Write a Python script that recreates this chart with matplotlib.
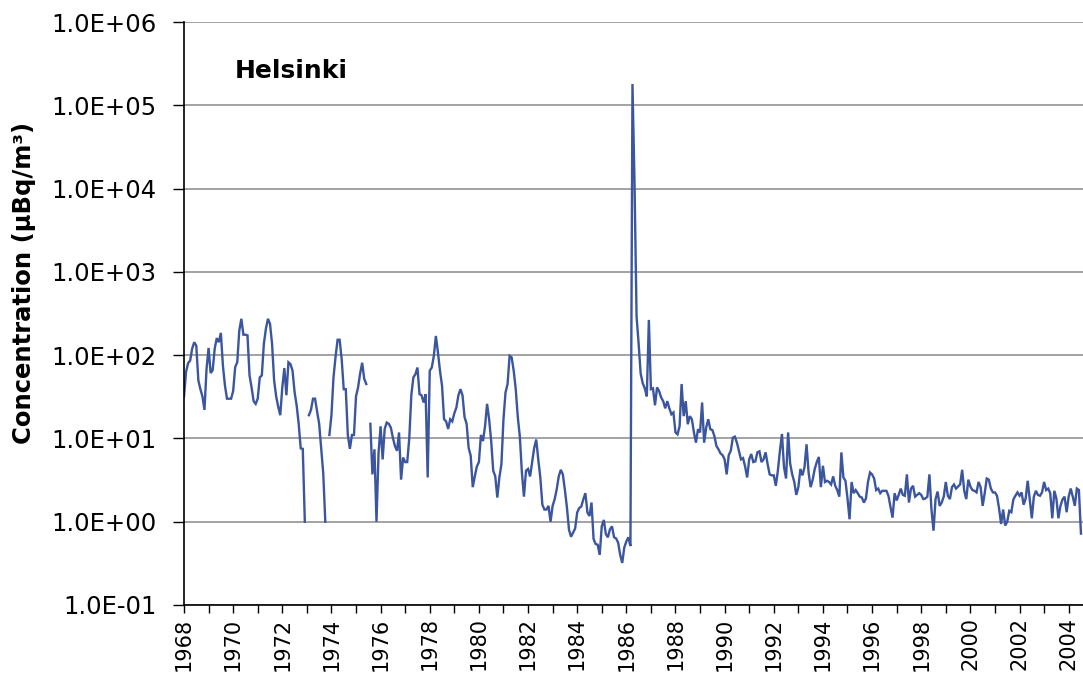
import numpy as np
import matplotlib
matplotlib.use("Agg")
import matplotlib.pyplot as plt
from matplotlib.ticker import FixedLocator, MultipleLocator, FuncFormatter, NullLocator

nan = np.nan
# Monthly Cs-137 concentrations (µBq/m3), Helsinki
c1968 = [32, 63, 80, 86, 120, 143, 130, 50, 39, 32, 22, 68]
c1969 = [122, 61, 66, 120, 160, 143, 185, 75, 43, 30, 30, 30]
c1970 = [37, 72, 82, 198, 273, 176, 176, 173, 57, 41, 28, 26]
c1971 = [30, 54, 57, 137, 208, 273, 238, 137, 50, 32, 24, 19]
c1972 = [41, 70, 33, 82, 78, 65, 36, 25, 15, 7.6, 7.5, 1.0]
c1973 = [nan, 19, 22, 30, 30, 21, 15, 7.5, 3.8, 1.0, nan, 11]
c1974 = [19, 54, 95, 153, 153, 89, 39, 39, 11, 7.5, 11, 11]
c1975 = [32, 41, 60, 81, 52, 45, nan, 15, 3.7, 7.4, 1.0, 6.7]
c1976 = [14, 5.6, 13, 15.5, 15, 13.5, 10.2, 8.1, 7.1, 11.8, 3.2, 5.9]
c1977 = [5.2, 5.2, 10, 33, 54, 59, 71, 34, 33, 27, 34, 3.4]
c1978 = [65, 71, 98, 170, 108, 65, 43, 17, 16, 13, 17, 16]
c1979 = [20, 23.5, 33, 39, 33, 18, 15, 7.7, 6.2, 2.6, 3.5, 4.6]
c1980 = [5.2, 11, 9.3, 14, 26, 17, 9.3, 4.1, 3.5, 1.95, 3.4, 4.9]
c1981 = [17, 35.5, 45, 98, 94, 65, 39, 18, 10.5, 3.9, 2.0, 4.1]
c1982 = [4.3, 3.5, 5.2, 7.7, 9.7, 5.6, 3.4, 1.6, 1.4, 1.4, 1.55, 1.0]
c1983 = [1.55, 1.86, 2.45, 3.5, 4.2, 3.7, 2.4, 1.48, 0.8, 0.66, 0.74, 0.83]
c1984 = [1.29, 1.46, 1.52, 1.86, 2.2, 1.29, 1.17, 1.7, 0.62, 0.54, 0.53, 0.40]
c1985 = [0.88, 1.05, 0.71, 0.65, 0.81, 0.88, 0.65, 0.63, 0.56, 0.4, 0.32, 0.49]
c1986 = [0.58, 0.65, 0.51, 1.8e5, 1.15e4, 290, 138, 60, 46, 40, 32, 265]
c1987 = [39, 40, 25, 41, 37, 31, 28, 23, 28, 23, 19.5, 20.5]
c1988 = [11.8, 11.2, 14, 45, 18.5, 28, 14.8, 18.5, 17, 11.8, 8.9, 12.9]
c1989 = [11.8, 27, 8.9, 13.5, 17, 12.9, 12.6, 10.7, 8.1, 7.4, 6.6, 6.3]
c1990 = [5.6, 3.7, 6.3, 7.1, 10.2, 10.5, 8.9, 7.1, 5.6, 5.8, 4.6, 3.4]
c1991 = [5.6, 6.5, 5.2, 5.3, 6.8, 7.0, 5.2, 5.6, 6.8, 4.9, 3.7, 3.6]
c1992 = [3.6, 2.7, 4.1, 7.1, 11.3, 4.5, 3.3, 11.8, 5.0, 3.7, 3.0, 2.1]
c1993 = [2.6, 4.3, 3.6, 4.5, 8.5, 3.9, 2.6, 3.2, 4.3, 5.2, 6.0, 2.6]
c1994 = [4.7, 3.0, 3.1, 3.0, 2.8, 3.5, 2.7, 2.4, 2.0, 6.8, 3.4, 3.1]
c1995 = [1.9, 1.07, 3.0, 2.2, 2.4, 2.2, 2.0, 1.95, 1.7, 1.9, 3.0, 3.9]
c1996 = [3.7, 3.3, 2.4, 2.5, 2.2, 2.35, 2.35, 2.35, 2.05, 1.5, 1.12, 2.2]
c1997 = [1.8, 2.1, 2.5, 2.1, 2.05, 3.7, 1.7, 2.5, 2.7, 2.0, 2.1, 2.2]
c1998 = [2.1, 1.87, 1.9, 2.0, 3.7, 1.4, 0.78, 1.87, 2.3, 1.55, 1.7, 2.0]
c1999 = [3.0, 2.05, 1.87, 2.6, 2.8, 2.5, 2.65, 2.8, 4.2, 2.35, 1.87, 3.2]
c2000 = [2.65, 2.4, 2.35, 2.25, 3.0, 2.6, 1.55, 2.2, 3.3, 3.2, 2.5, 2.25]
c2001 = [2.25, 2.05, 1.45, 0.94, 1.4, 0.9, 1.0, 1.35, 1.3, 1.85, 2.05, 2.25]
c2002 = [2.05, 2.25, 1.6, 1.9, 3.1, 1.87, 1.1, 2.0, 2.35, 2.1, 2.05, 2.25]
c2003 = [3.0, 2.4, 2.5, 2.2, 1.1, 2.35, 1.9, 1.1, 1.55, 1.85, 2.0, 1.3]
c2004 = [2.0, 2.5, 2.0, 1.55, 2.5, 2.4, 0.72]

yearly = [c1968, c1969, c1970, c1971, c1972, c1973, c1974, c1975, c1976, c1977,
          c1978, c1979, c1980, c1981, c1982, c1983, c1984, c1985, c1986, c1987,
          c1988, c1989, c1990, c1991, c1992, c1993, c1994, c1995, c1996, c1997,
          c1998, c1999, c2000, c2001, c2002, c2003, c2004]
values = np.array([v for yr in yearly for v in yr], dtype=float)
start_year = 1968
time = start_year + np.arange(len(values)) / 12.0

y_ticks = [1e-1, 1e0, 1e1, 1e2, 1e3, 1e4, 1e5, 1e6]
station = "Helsinki"
y_label = "Concentration (µBq/m³)"

W, H = 1083, 681
fig = plt.figure(figsize=(W / 100, H / 100), dpi=100)
ax = fig.add_axes([184 / W, 1 - 605 / H, (W - 184) / W, (605 - 22) / H])

ax.plot(time, values, color="#3b559e", lw=1.7, solid_joinstyle="miter")

ax.set_yscale("log")
ax.set_ylim(1e-1, 1e6)
ax.set_xlim(1968, 1968 + (len(values)) / 12.0)
ax.yaxis.set_major_locator(FixedLocator(y_ticks))
ax.yaxis.set_minor_locator(NullLocator())
ax.yaxis.set_major_formatter(FuncFormatter(lambda v, p: f"{v:.1E}"))
ax.xaxis.set_major_locator(MultipleLocator(2))
ax.xaxis.set_minor_locator(MultipleLocator(1))
ax.xaxis.set_major_formatter(FuncFormatter(lambda v, p: f"{int(round(v))}"))

ax.grid(axis="y", which="major", color="#8a8a8a", lw=1.1)
ax.set_axisbelow(True)
for s in ("top", "right"):
    ax.spines[s].set_visible(False)
for s in ("left", "bottom"):
    ax.spines[s].set_color("black")
    ax.spines[s].set_linewidth(1.2)

font = "DejaVu Sans"
ax.tick_params(axis="y", which="major", direction="out", length=8, width=1,
               labelsize=17.5, pad=12)
ax.tick_params(axis="x", which="both", direction="out", length=6, width=1)
ax.tick_params(axis="x", which="major", labelsize=15, labelrotation=90, pad=3)
for lab in ax.get_xticklabels() + ax.get_yticklabels():
    lab.set_fontfamily(font)

ax.set_ylabel(y_label, fontsize=17.5, fontweight="bold", family=font)
ax.yaxis.set_label_coords(-0.165, 0.552)

ax.text(0.056, 0.904, station, transform=ax.transAxes, fontsize=18,
        fontweight="bold", family=font, va="baseline", ha="left")

fig.savefig("out.png", dpi=100)
